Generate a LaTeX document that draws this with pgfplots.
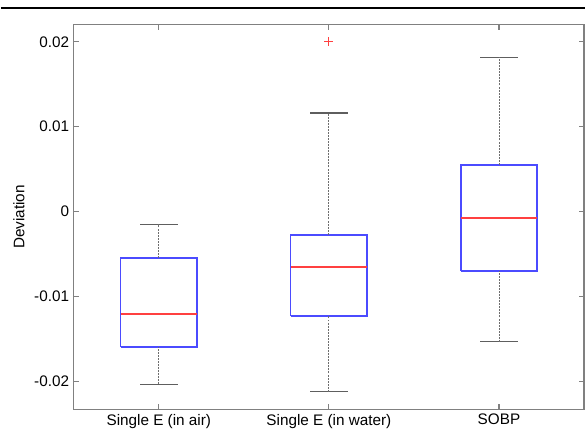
\documentclass[border=0pt]{standalone}
\usepackage{fontspec}
\setmainfont{Liberation Sans}
\usepackage{pgfplots}
\pgfplotsset{compat=1.18}
\definecolor{axisgray}{HTML}{808080}
\definecolor{boxblue}{HTML}{4B4BFF}
\definecolor{medred}{HTML}{FF4040}
\definecolor{capgray}{HTML}{5E5E5E}
\definecolor{stemgray}{HTML}{6E6E6E}

\begin{document}
\begin{tikzpicture}
\begin{axis}[
    scale only axis,
    width=384pt, height=289.3pt,
    xmin=0.5, xmax=3.5,
    ymin=-0.02333, ymax=0.0220,
    xtick={1,2,3},
    xticklabels={Single E (in air), Single E (in water), SOBP},
    ytick={-0.02,-0.01,0,0.01,0.02},
    yticklabels={-0.02,-0.01,0,0.01,0.02},
    scaled y ticks=false,
    ylabel={Deviation},
    y label style={at={(axis description cs:-0.1074,0.5)}, anchor=center},
    tick align=inside,
    major tick length=3.75pt,
    axis line style={axisgray, line width=0.8pt},
    every tick/.style={axisgray, line width=0.8pt},
    tick label style={font=\fontsize{11.5}{13}\selectfont},
    label style={font=\fontsize{11.5}{13}\selectfont},
    bxBox/.style={boxblue, solid, line width=1.3pt, line join=miter},
    bxMedian/.style={medred, solid, line width=1.5pt},
    bxStem/.style={stemgray, line width=0.6pt, dash pattern=on 1.5pt off 0.8pt},
    bxCap/.style={capgray, solid, line width=0.8pt},
]

% boxes (quartiles) and medians
\addplot[bxBox] coordinates {(0.775,-0.0160) (1.225,-0.0160) (1.225,-0.00549) (0.775,-0.00549) (0.775,-0.0160)};
\addplot[bxBox] coordinates {(1.775,-0.01232) (2.225,-0.01232) (2.225,-0.00274) (1.775,-0.00274) (1.775,-0.01232)};
\addplot[bxBox] coordinates {(2.775,-0.00706) (3.225,-0.00706) (3.225,0.00549) (2.775,0.00549) (2.775,-0.00706)};
\addplot[bxMedian] coordinates {(0.775,-0.01204) (1.225,-0.01204)};
\addplot[bxMedian] coordinates {(1.775,-0.00651) (2.225,-0.00651)};
\addplot[bxMedian] coordinates {(2.775,-0.00071) (3.225,-0.00071)};

% whisker caps
\addplot[bxCap] coordinates {(0.89,-0.02039) (1.11,-0.02039)};
\addplot[bxCap] coordinates {(0.89,-0.00149) (1.11,-0.00149)};
\addplot[bxCap] coordinates {(1.89,-0.02126) (2.11,-0.02126)};
\addplot[bxCap] coordinates {(1.89,0.01161) (2.11,0.01161)};
\addplot[bxCap] coordinates {(2.89,-0.01538) (3.11,-0.01538)};
\addplot[bxCap] coordinates {(2.89,0.0182) (3.11,0.0182)};

% outlier
\addplot[medred, only marks, mark=+, mark size=3.3pt, mark options={solid, line width=0.9pt}] coordinates {(2,0.0200)};

% whisker stems
\addplot[bxStem] coordinates {(1,-0.02039) (1,-0.0160)};
\addplot[bxStem] coordinates {(1,-0.00549) (1,-0.00149)};
\addplot[bxStem] coordinates {(2,-0.02126) (2,-0.01232)};
\addplot[bxStem] coordinates {(2,-0.00274) (2,0.01161)};
\addplot[bxStem] coordinates {(3,-0.01538) (3,-0.00706)};
\addplot[bxStem] coordinates {(3,0.00549) (3,0.0182)};

\coordinate (bl) at (rel axis cs:0,0);
\coordinate (tr) at (rel axis cs:1,1);
\coordinate (tl) at (rel axis cs:0,1);
\end{axis}
\pgfresetboundingbox
\path ([shift={(-54.75pt,-16.7pt)}]bl) rectangle ([shift={(0.75pt,18.75pt)}]tr);
\draw[line width=1.5pt] ([shift={(-54.75pt,12.75pt)}]tl) -- ([shift={(0.75pt,12.75pt)}]tr);
\end{tikzpicture}
\end{document}
